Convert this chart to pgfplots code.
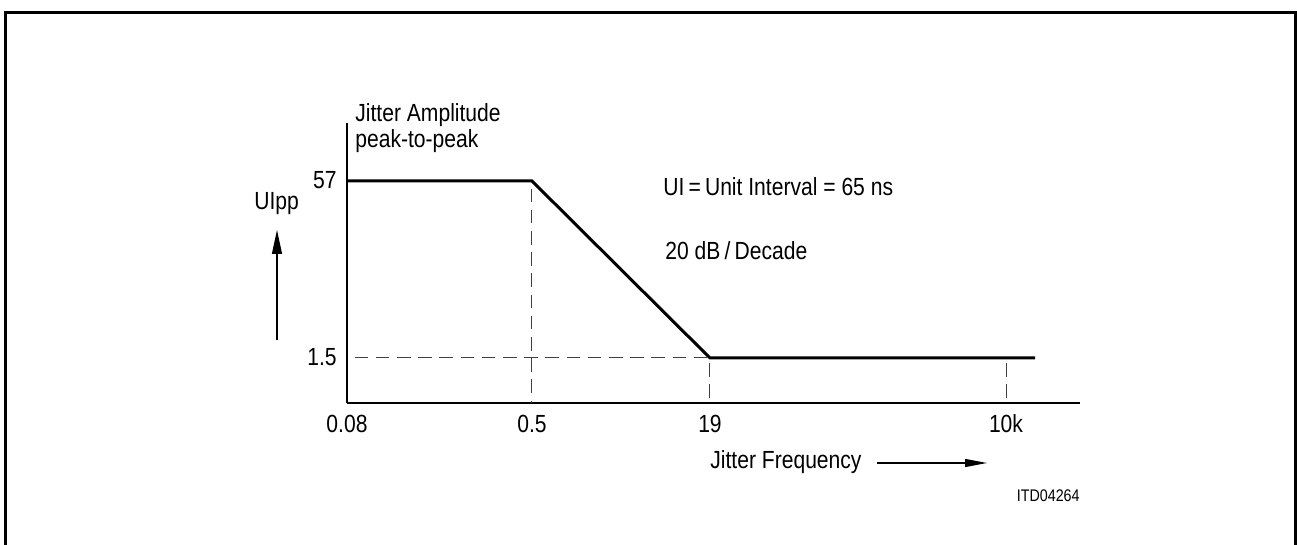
\documentclass[border=0pt]{standalone}
\usepackage{fontspec}
\setmainfont{Liberation Sans}[FakeStretch=0.85]
\usepackage{pgfplots}
\pgfplotsset{compat=1.18}
\usetikzlibrary{arrows.meta}
\newcommand\lab{\fontsize{12.4}{14}\selectfont}
\begin{document}
\begin{tikzpicture}
\begin{axis}[
  scale only axis, width=366.5pt, height=140pt,
  xmin=347, xmax=1080, ymin=142, ymax=422,
  axis x line*=bottom, axis y line*=left,
  axis line style={line width=0.65pt},
  xtick={347,532,710,1006}, xticklabels={0.08,0.5,19,10k},
  ytick={187,364}, yticklabels={1.5,57},
  /pgf/number format/assume math mode=true,
  major tick length=0pt, tick style={draw=none},
  tick label style={font=\lab, inner sep=0pt},
  xticklabel style={anchor=base, yshift=-15pt},
  yticklabel style={anchor=base east, xshift=-5pt, yshift=-4pt},
  clip=false,
]
% dashed guide lines
\addplot[black!75, line width=0.5pt, dash pattern=on 6.8pt off 3.8pt, dash phase=6.8pt] coordinates {(347,187) (710,187)};
\addplot[black!75, line width=0.5pt, dash pattern=on 6.8pt off 3.8pt, dash phase=6.8pt] coordinates {(532,364) (532,142)};
\addplot[black!75, line width=0.5pt, dash pattern=on 6.8pt off 3.8pt, dash phase=8pt] coordinates {(710,187) (710,142)};
\addplot[black!75, line width=0.5pt, dash pattern=on 6.8pt off 3.8pt, dash phase=8pt] coordinates {(1006,187) (1006,142)};
% jitter tolerance curve
\addplot[black, line width=1.5pt, line join=miter] coordinates {(347,364) (532,364) (710,187) (1035,187)};
% texts
\node[anchor=base west, inner sep=0pt, font=\lab] at (axis cs:355,423) {Jitter Amplitude};
\node[anchor=base west, inner sep=0pt, font=\lab] at (axis cs:355,397) {peak-to-peak};
\node[anchor=base west, inner sep=0pt, font=\lab] at (axis cs:254,335) {UIpp};
\node[anchor=base west, inner sep=0pt, font=\lab] at (axis cs:663,349) {UI\,=\,Unit Interval = 65 ns};
\node[anchor=base west, inner sep=0pt, font=\lab] at (axis cs:665,285) {20 dB\,/\,Decade};
\node[anchor=base west, inner sep=0pt, font=\lab] at (axis cs:710,76) {Jitter Frequency};
\node[anchor=base east, inner sep=0pt, font=\fontsize{8.4}{9}\selectfont] at (axis cs:1080,43) {ITD04264};
\draw[line width=0.6pt, -{Triangle[length=12pt,width=5pt]}] (axis cs:277,205) -- (axis cs:277,315);
\draw[line width=0.6pt, -{Triangle[length=11pt,width=4pt]}] (axis cs:877,82) -- (axis cs:987,82);
% frame
\draw[line width=1.5pt] (axis cs:5.5,-20) -- (axis cs:5.5,532.5) -- (axis cs:1295.5,532.5) -- (axis cs:1295.5,-20);
\coordinate (BL) at (axis cs:0,0);
\coordinate (TR) at (axis cs:1297,545);
\end{axis}
\pgfresetboundingbox
\path[use as bounding box] (BL) rectangle (TR);
\end{tikzpicture}
\end{document}
